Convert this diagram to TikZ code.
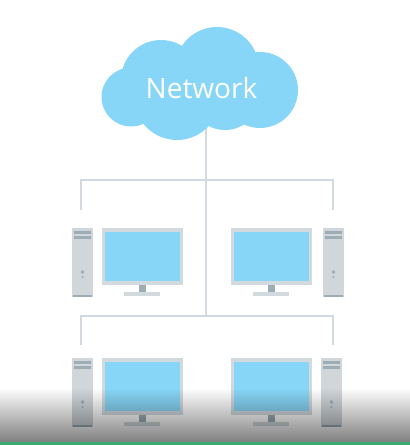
\documentclass[tikz,border=0pt]{standalone}
\usepackage{fontspec}
\setmainfont{Open Sans}
\usetikzlibrary{fadings}
\definecolor{cloudblue}{HTML}{88D6F7}
\definecolor{wire}{HTML}{D2DADE}
\definecolor{slot}{HTML}{9CADB6}
\definecolor{casegrey}{HTML}{D0D6DA}
\definecolor{barGreen}{HTML}{3BAA6E}
\tikzset{
  part/.style={rectangle,inner sep=0pt,outer sep=0pt,anchor=north west},
  wireline/.style={draw=wire,line width=2.6pt},
}
% w h x y colour
\newcommand{\boxat}[6]{\node[part,minimum width=#2pt,minimum height=#3pt,fill=#6] (#1) at (#4,#5) {};}
\begin{document}
\begin{tikzpicture}[x=1pt,y=-1pt]
\useasboundingbox (0,0) rectangle (410,445);
\coordinate (cloudbase) at (206,125);
\coordinate (hubbottom) at (206,316);
\coordinate (topleft) at (81,180);
\coordinate (topright) at (333,180);
\coordinate (dropa) at (81,210);
\coordinate (dropb) at (333,210);
\coordinate (lowleft) at (81,316);
\coordinate (lowright) at (333,316);
\coordinate (dropc) at (81,345);
\coordinate (dropd) at (333,345);
\draw[wireline] (cloudbase)--(hubbottom);
\draw[wireline] (dropa)--(topleft)--(topright)--(dropb);
\draw[wireline] (dropc)--(lowleft)--(lowright)--(dropd);
% cloud
\foreach \cx/\cy/\r in {131/97/29.5,161/80/40,217/69/42,260/90/38,177/97/43,225/94/36}
  \fill[cloudblue] (\cx,\cy) circle (\r);
\node[text=white,font=\fontsize{28}{28}\selectfont] (net) at (201.5,88) {Network};
% monitors and towers: name/monitor x/tower x/top y
\foreach \n/\mx/\tx/\ty in {a/102/72/228,b/231/323/228,c/102/72/358,d/231/321/358}{
  \boxat{mon\n}{81}{57}{\mx}{\ty}{wire}
  \boxat{scr\n}{75}{49}{\mx+3}{\ty+3.5}{cloudblue}
  \boxat{neck\n}{7}{7}{\mx+37}{\ty+57}{slot}
  \boxat{foot\n}{36}{4}{\mx+22}{\ty+64}{wire}
  \boxat{case\n}{21}{69}{\tx}{\ty}{casegrey}
  \boxat{sloa\n}{17}{3}{\tx+2}{\ty+3}{slot}
  \boxat{slob\n}{17}{3}{\tx+2}{\ty+8}{slot}
  \boxat{base\n}{19}{2}{\tx+1}{\ty+67}{slot}
  \fill[slot] (\tx+10.5,\ty+44) circle (1.8);
  \fill[slot] (\tx+10.5,\ty+49) circle (1.2);
}
% bottom shadow and bar
\fill[black,opacity=.5,path fading=north] (0,388) rectangle (410,442);
\boxat{bar}{410}{3}{0}{442}{barGreen}
\end{tikzpicture}
\end{document}
